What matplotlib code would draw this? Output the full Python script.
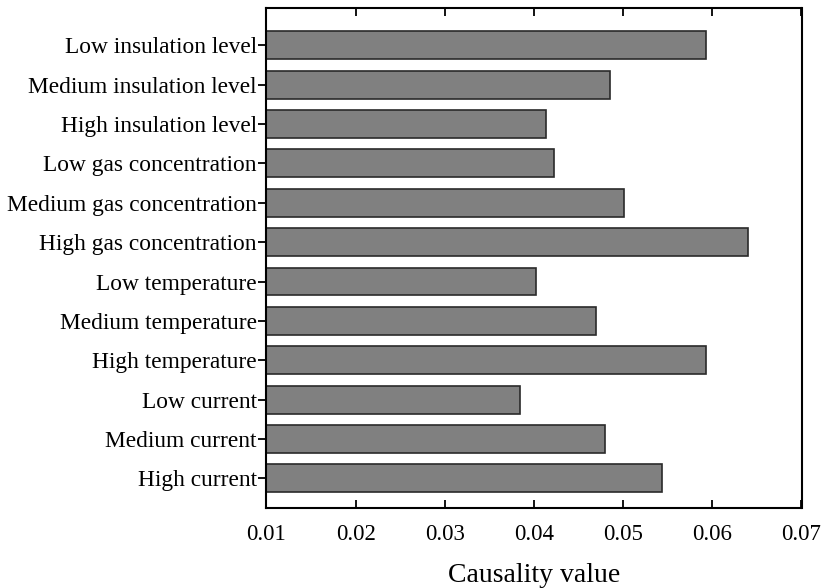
import matplotlib
matplotlib.use("Agg")
import matplotlib.pyplot as plt

categories = [
    "Low insulation level", "Medium insulation level", "High insulation level",
    "Low gas concentration", "Medium gas concentration", "High gas concentration",
    "Low temperature", "Medium temperature", "High temperature",
    "Low current", "Medium current", "High current",
]
values = [0.0593, 0.0485, 0.0413, 0.0422, 0.0501, 0.0640,
          0.0402, 0.0469, 0.0593, 0.0384, 0.0480, 0.0543]
xticks = [0.01, 0.02, 0.03, 0.04, 0.05, 0.06, 0.07]
xticklabels = ["0.01", "0.02", "0.03", "0.04", "0.05", "0.06", "0.07"]

plt.rcParams['font.family'] = ['Liberation Serif', 'DejaVu Serif']

fig = plt.figure(figsize=(8.28, 5.88), dpi=100)
ax = fig.add_axes([266.5/828, 1-507.5/588, (801.5-266.5)/828, (507.5-8.3)/588])

y = list(range(len(categories)))
ax.barh(y, values, height=0.71, left=0.0,
        color="#808080", edgecolor="#2a2a2a", linewidth=1.2)
ax.set_xlim(0.01, 0.07)
ax.set_ylim(11.74, -0.94)
ax.set_yticks(y)
ax.set_yticklabels(categories, fontsize=16.8)
ax.set_xticks(xticks)
ax.set_xticklabels(xticklabels, fontsize=16.5)
ax.tick_params(axis='x', direction='in', top=True, bottom=True, length=6, width=1.3, pad=12)
ax.tick_params(axis='y', direction='out', left=True, right=False, length=6, width=1.3, pad=1)
for s in ax.spines.values():
    s.set_linewidth(1.5)
ax.set_xlabel("Causality value", fontsize=20, labelpad=13)

fig.savefig("out.png", dpi=100)
